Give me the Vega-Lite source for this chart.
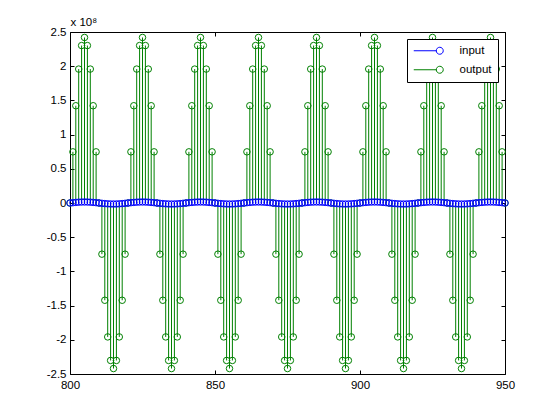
{
  "$schema": "https://vega.github.io/schema/vega-lite/v6.json",
  "width": 435,
  "height": 342,
  "autosize": {"type": "none"},
  "padding": {"left": 70, "top": 32, "right": 51, "bottom": 44},
  "background": "white",
  "config": {
    "view": {"stroke": "black", "strokeWidth": 1},
    "font": "Liberation Sans",
    "axis": {
      "domain": false,
      "grid": false,
      "tickColor": "black",
      "tickSize": -4,
      "labelFont": "Liberation Sans",
      "labelFontSize": 11.5,
      "labelColor": "black",
      "labelOverlap": false,
      "labelFlush": false,
      "titleFont": "Liberation Sans",
      "titleFontWeight": "normal",
      "titleColor": "black"
    },
    "legend": {
      "orient": "none",
      "legendX": 337,
      "legendY": 7,
      "strokeColor": "black",
      "fillColor": "white",
      "padding": 6,
      "cornerRadius": 0,
      "labelFont": "Liberation Sans",
      "labelFontSize": 11.5,
      "labelColor": "black",
      "symbolType": "M-1,0 L3.6,0 M4.9,0 A0.7,0.7 0 1 1 3.5,0 A0.7,0.7 0 1 1 4.9,0",
      "symbolSize": 100,
      "symbolStrokeWidth": 1,
      "symbolFillColor": "transparent",
      "labelOffset": 35,
      "rowPadding": 6
    }
  },
  "data": {
    "values": [
      {"n": 800, "input": 0, "output": 0},
      {"n": 801, "input": 460000, "output": 74800000},
      {"n": 802, "input": 880000, "output": 142200000},
      {"n": 803, "input": 1210000, "output": 195800000},
      {"n": 804, "input": 1430000, "output": 230200000},
      {"n": 805, "input": 1500000, "output": 242000000},
      {"n": 806, "input": 1430000, "output": 230200000},
      {"n": 807, "input": 1210000, "output": 195800000},
      {"n": 808, "input": 880000, "output": 142200000},
      {"n": 809, "input": 460000, "output": 74800000},
      {"n": 810, "input": 0, "output": 0},
      {"n": 811, "input": -460000, "output": -74800000},
      {"n": 812, "input": -880000, "output": -142200000},
      {"n": 813, "input": -1210000, "output": -195800000},
      {"n": 814, "input": -1430000, "output": -230200000},
      {"n": 815, "input": -1500000, "output": -242000000},
      {"n": 816, "input": -1430000, "output": -230200000},
      {"n": 817, "input": -1210000, "output": -195800000},
      {"n": 818, "input": -880000, "output": -142200000},
      {"n": 819, "input": -460000, "output": -74800000},
      {"n": 820, "input": 0, "output": 0},
      {"n": 821, "input": 460000, "output": 74800000},
      {"n": 822, "input": 880000, "output": 142200000},
      {"n": 823, "input": 1210000, "output": 195800000},
      {"n": 824, "input": 1430000, "output": 230200000},
      {"n": 825, "input": 1500000, "output": 242000000},
      {"n": 826, "input": 1430000, "output": 230200000},
      {"n": 827, "input": 1210000, "output": 195800000},
      {"n": 828, "input": 880000, "output": 142200000},
      {"n": 829, "input": 460000, "output": 74800000},
      {"n": 830, "input": 0, "output": 0},
      {"n": 831, "input": -460000, "output": -74800000},
      {"n": 832, "input": -880000, "output": -142200000},
      {"n": 833, "input": -1210000, "output": -195800000},
      {"n": 834, "input": -1430000, "output": -230200000},
      {"n": 835, "input": -1500000, "output": -242000000},
      {"n": 836, "input": -1430000, "output": -230200000},
      {"n": 837, "input": -1210000, "output": -195800000},
      {"n": 838, "input": -880000, "output": -142200000},
      {"n": 839, "input": -460000, "output": -74800000},
      {"n": 840, "input": 0, "output": 0},
      {"n": 841, "input": 460000, "output": 74800000},
      {"n": 842, "input": 880000, "output": 142200000},
      {"n": 843, "input": 1210000, "output": 195800000},
      {"n": 844, "input": 1430000, "output": 230200000},
      {"n": 845, "input": 1500000, "output": 242000000},
      {"n": 846, "input": 1430000, "output": 230200000},
      {"n": 847, "input": 1210000, "output": 195800000},
      {"n": 848, "input": 880000, "output": 142200000},
      {"n": 849, "input": 460000, "output": 74800000},
      {"n": 850, "input": 0, "output": 0},
      {"n": 851, "input": -460000, "output": -74800000},
      {"n": 852, "input": -880000, "output": -142200000},
      {"n": 853, "input": -1210000, "output": -195800000},
      {"n": 854, "input": -1430000, "output": -230200000},
      {"n": 855, "input": -1500000, "output": -242000000},
      {"n": 856, "input": -1430000, "output": -230200000},
      {"n": 857, "input": -1210000, "output": -195800000},
      {"n": 858, "input": -880000, "output": -142200000},
      {"n": 859, "input": -460000, "output": -74800000},
      {"n": 860, "input": 0, "output": 0},
      {"n": 861, "input": 460000, "output": 74800000},
      {"n": 862, "input": 880000, "output": 142200000},
      {"n": 863, "input": 1210000, "output": 195800000},
      {"n": 864, "input": 1430000, "output": 230200000},
      {"n": 865, "input": 1500000, "output": 242000000},
      {"n": 866, "input": 1430000, "output": 230200000},
      {"n": 867, "input": 1210000, "output": 195800000},
      {"n": 868, "input": 880000, "output": 142200000},
      {"n": 869, "input": 460000, "output": 74800000},
      {"n": 870, "input": 0, "output": 0},
      {"n": 871, "input": -460000, "output": -74800000},
      {"n": 872, "input": -880000, "output": -142200000},
      {"n": 873, "input": -1210000, "output": -195800000},
      {"n": 874, "input": -1430000, "output": -230200000},
      {"n": 875, "input": -1500000, "output": -242000000},
      {"n": 876, "input": -1430000, "output": -230200000},
      {"n": 877, "input": -1210000, "output": -195800000},
      {"n": 878, "input": -880000, "output": -142200000},
      {"n": 879, "input": -460000, "output": -74800000},
      {"n": 880, "input": 0, "output": 0},
      {"n": 881, "input": 460000, "output": 74800000},
      {"n": 882, "input": 880000, "output": 142200000},
      {"n": 883, "input": 1210000, "output": 195800000},
      {"n": 884, "input": 1430000, "output": 230200000},
      {"n": 885, "input": 1500000, "output": 242000000},
      {"n": 886, "input": 1430000, "output": 230200000},
      {"n": 887, "input": 1210000, "output": 195800000},
      {"n": 888, "input": 880000, "output": 142200000},
      {"n": 889, "input": 460000, "output": 74800000},
      {"n": 890, "input": 0, "output": 0},
      {"n": 891, "input": -460000, "output": -74800000},
      {"n": 892, "input": -880000, "output": -142200000},
      {"n": 893, "input": -1210000, "output": -195800000},
      {"n": 894, "input": -1430000, "output": -230200000},
      {"n": 895, "input": -1500000, "output": -242000000},
      {"n": 896, "input": -1430000, "output": -230200000},
      {"n": 897, "input": -1210000, "output": -195800000},
      {"n": 898, "input": -880000, "output": -142200000},
      {"n": 899, "input": -460000, "output": -74800000},
      {"n": 900, "input": 0, "output": 0},
      {"n": 901, "input": 460000, "output": 74800000},
      {"n": 902, "input": 880000, "output": 142200000},
      {"n": 903, "input": 1210000, "output": 195800000},
      {"n": 904, "input": 1430000, "output": 230200000},
      {"n": 905, "input": 1500000, "output": 242000000},
      {"n": 906, "input": 1430000, "output": 230200000},
      {"n": 907, "input": 1210000, "output": 195800000},
      {"n": 908, "input": 880000, "output": 142200000},
      {"n": 909, "input": 460000, "output": 74800000},
      {"n": 910, "input": 0, "output": 0},
      {"n": 911, "input": -460000, "output": -74800000},
      {"n": 912, "input": -880000, "output": -142200000},
      {"n": 913, "input": -1210000, "output": -195800000},
      {"n": 914, "input": -1430000, "output": -230200000},
      {"n": 915, "input": -1500000, "output": -242000000},
      {"n": 916, "input": -1430000, "output": -230200000},
      {"n": 917, "input": -1210000, "output": -195800000},
      {"n": 918, "input": -880000, "output": -142200000},
      {"n": 919, "input": -460000, "output": -74800000},
      {"n": 920, "input": 0, "output": 0},
      {"n": 921, "input": 460000, "output": 74800000},
      {"n": 922, "input": 880000, "output": 142200000},
      {"n": 923, "input": 1210000, "output": 195800000},
      {"n": 924, "input": 1430000, "output": 230200000},
      {"n": 925, "input": 1500000, "output": 242000000},
      {"n": 926, "input": 1430000, "output": 230200000},
      {"n": 927, "input": 1210000, "output": 195800000},
      {"n": 928, "input": 880000, "output": 142200000},
      {"n": 929, "input": 460000, "output": 74800000},
      {"n": 930, "input": 0, "output": 0},
      {"n": 931, "input": -460000, "output": -74800000},
      {"n": 932, "input": -880000, "output": -142200000},
      {"n": 933, "input": -1210000, "output": -195800000},
      {"n": 934, "input": -1430000, "output": -230200000},
      {"n": 935, "input": -1500000, "output": -242000000},
      {"n": 936, "input": -1430000, "output": -230200000},
      {"n": 937, "input": -1210000, "output": -195800000},
      {"n": 938, "input": -880000, "output": -142200000},
      {"n": 939, "input": -460000, "output": -74800000},
      {"n": 940, "input": 0, "output": 0},
      {"n": 941, "input": 460000, "output": 74800000},
      {"n": 942, "input": 880000, "output": 142200000},
      {"n": 943, "input": 1210000, "output": 195800000},
      {"n": 944, "input": 1430000, "output": 230200000},
      {"n": 945, "input": 1500000, "output": 242000000},
      {"n": 946, "input": 1430000, "output": 230200000},
      {"n": 947, "input": 1210000, "output": 195800000},
      {"n": 948, "input": 880000, "output": 142200000},
      {"n": 949, "input": 460000, "output": 74800000},
      {"n": 950, "input": 0, "output": 0}
    ]
  },
  "layer": [
    {
      "encoding": {
        "x": {
          "field": "n", "type": "quantitative",
          "scale": {"domain": [800, 950], "nice": false, "zero": false},
          "axis": {"orient": "bottom", "title": null, "values": [800, 850, 900, 950], "labelPadding": 9}
        },
        "y": {
          "field": "output", "type": "quantitative",
          "scale": {"domain": [-250000000, 250000000], "nice": false, "zero": false},
          "axis": {
            "orient": "left",
            "title": "x 10⁸",
            "titleAngle": 0,
            "titleAlign": "left",
            "titleBaseline": "alphabetic",
            "titleX": 0,
            "titleY": -7,
            "titleFontSize": 11.5,
            "tickCount": 10,
            "labelExpr": "'' + (datum.value / 100000000)",
            "labelOverlap": false,
            "labelPadding": 8
          }
        }
      },
      "layer": [
        {
          "mark": {"type": "rule", "strokeWidth": 1},
          "encoding": {
            "y2": {"datum": 0},
            "color": {"datum": "output", "type": "nominal", "scale": {"domain": ["input", "output"], "range": ["#0000FF", "#008000"]}, "legend": {"title": null}}
          }
        },
        {
          "mark": {"type": "point", "shape": "circle", "filled": false, "size": 42, "strokeWidth": 1, "opacity": 1},
          "encoding": {
            "color": {"datum": "output", "type": "nominal"}
          }
        },
        {
          "mark": {"type": "rule", "strokeWidth": 1},
          "encoding": {
            "y": {"field": "input", "type": "quantitative"},
            "y2": {"datum": 0},
            "color": {"datum": "input", "type": "nominal"}
          }
        },
        {
          "mark": {"type": "point", "shape": "circle", "filled": false, "size": 42, "strokeWidth": 1, "opacity": 1},
          "encoding": {
            "y": {"field": "input", "type": "quantitative"},
            "color": {"datum": "input", "type": "nominal"}
          }
        }
      ]
    },
    {
      "mark": {"type": "point", "opacity": 0},
      "encoding": {
        "x": {
          "field": "n", "type": "quantitative",
          "axis": {"orient": "top", "title": null, "labels": false, "values": [800, 850, 900, 950]}
        },
        "y": {
          "field": "output", "type": "quantitative",
          "axis": {"orient": "right", "title": null, "labels": false, "tickCount": 10}
        }
      }
    }
  ],
  "resolve": {"axis": {"x": "independent", "y": "independent"}}
}
